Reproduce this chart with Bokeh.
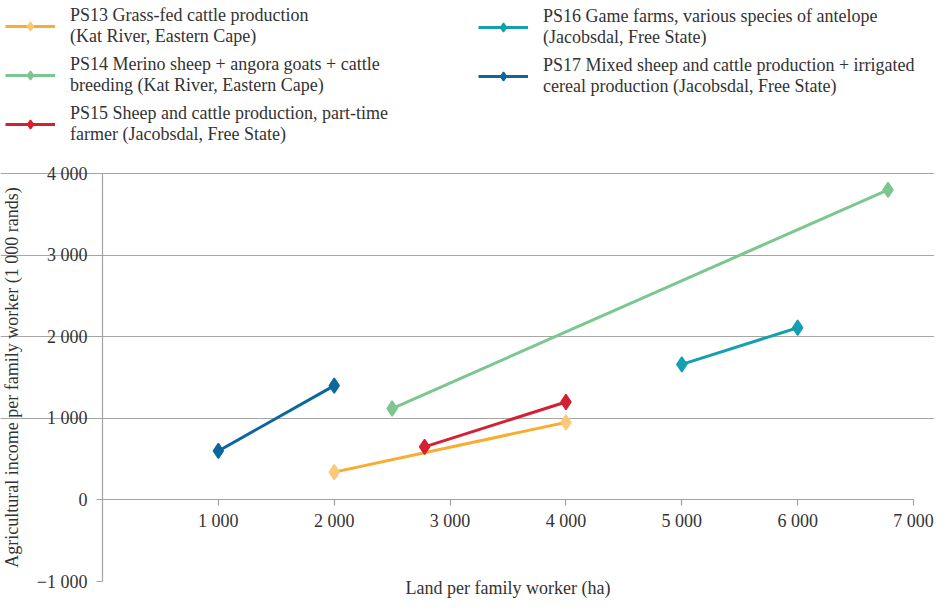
from bokeh.plotting import figure
from bokeh.models import (Range1d, FixedTicker, Legend, LegendItem, LinearAxis,
                          Grid, Label)
from bokeh.embed import file_html
from bokeh.resources import INLINE

# ---- data ----
series_names = [
    "PS13 Grass-fed cattle production\n(Kat River, Eastern Cape)",
    "PS14 Merino sheep + angora goats + cattle\nbreeding (Kat River, Eastern Cape)",
    "PS15 Sheep and cattle production, part-time\nfarmer (Jacobsdal, Free State)",
    "PS16 Game farms, various species of antelope\n(Jacobsdal, Free State)",
    "PS17 Mixed sheep and cattle production + irrigated\ncereal production (Jacobsdal, Free State)",
]
ps13_land = [2000, 4000]
ps13_income = [340, 950]
ps14_land = [2500, 6780]
ps14_income = [1120, 3800]
ps15_land = [2780, 4000]
ps15_income = [650, 1200]
ps16_land = [5000, 6000]
ps16_income = [1660, 2110]
ps17_land = [1000, 2000]
ps17_income = [600, 1400]

x_ticks = [1000, 2000, 3000, 4000, 5000, 6000, 7000]
x_tick_labels = ["1 000", "2 000", "3 000", "4 000", "5 000", "6 000", "7 000"]
y_ticks = [-1000, 0, 1000, 2000, 3000, 4000]
y_tick_labels = ["\u22121 000", "0", "1 000", "2 000", "3 000", "4 000"]
grid_ticks = [1000, 2000, 3000, 4000]
x_min, x_max = 0, 7000
y_min, y_max = -1000, 4000

x_title = "Land per family worker (ha)"
y_title = "Agricultural income per family worker (1 000 rands)"

# ---- layout (pixels on the canvas) ----
W, H = 934, 600
AX_LEFT, AX_RIGHT = 102, 913      # pixel of x_min / x_max
AX_TOP, AX_BOTTOM = 173, 581      # pixel of y_max / y_min
xs = (AX_RIGHT - AX_LEFT) / (x_max - x_min)
ys = (AX_BOTTOM - AX_TOP) / (y_max - y_min)
x_range = Range1d(x_min - AX_LEFT / xs, x_min + (W - AX_LEFT) / xs)
y_range = Range1d(y_min - (H - AX_BOTTOM) / ys, y_max + AX_TOP / ys)

# ---- style ----
FONT = "Liberation Serif"
FS = "18px"
TEXT = "#333333"
AXIS = "#a3a3a3"
line_colors = ["#F8AC30", "#7CC68F", "#D42030", "#13A0B0", "#0C679C"]
marker_colors = ["#FDC878", "#7CC68F", "#D42030", "#13A0B0", "#0C679C"]

p = figure(width=W, height=H, output_backend="svg", toolbar_location=None,
           x_range=x_range, y_range=y_range,
           x_axis_location=None, y_axis_location=None)
p.min_border = 0
p.outline_line_color = None
p.background_fill_color = "white"
p.border_fill_color = "white"
for g in p.grid:
    g.visible = False

p.add_layout(Grid(dimension=1, ticker=FixedTicker(ticks=grid_ticks),
                  bounds=(x_min, x_max), grid_line_color="#a6a6a6",
                  grid_line_width=1.2))

xaxis = LinearAxis(fixed_location=0, bounds=(x_min, x_max),
                   ticker=FixedTicker(ticks=x_ticks),
                   major_label_overrides=dict(zip(x_ticks, x_tick_labels)),
                   major_label_standoff=5)
yaxis = LinearAxis(fixed_location=0, bounds=(y_min, y_max),
                   ticker=FixedTicker(ticks=y_ticks),
                   major_label_overrides=dict(zip(y_ticks, y_tick_labels)),
                   major_label_standoff=9,
                   axis_label=y_title, axis_label_text_font=FONT,
                   axis_label_text_font_size=FS,
                   axis_label_text_font_style="normal",
                   axis_label_text_color=TEXT, axis_label_standoff=12)
for ax in (xaxis, yaxis):
    ax.axis_line_color = AXIS
    ax.axis_line_width = 1.2
    ax.major_tick_line_color = AXIS
    ax.major_tick_line_width = 1.2
    ax.major_tick_in = 0
    ax.major_tick_out = 6
    ax.minor_tick_in = 0
    ax.minor_tick_out = 0
    ax.major_label_text_font = FONT
    ax.major_label_text_font_size = FS
    ax.major_label_text_color = TEXT
p.add_layout(xaxis, "below")
p.add_layout(yaxis, "left")

p.add_layout(Label(x=(x_min + x_max) / 2, y=13, y_units="screen",
                   text=x_title, text_font=FONT, text_font_size=FS,
                   text_color=TEXT, text_align="center",
                   text_baseline="middle"))

lands = [ps13_land, ps14_land, ps15_land, ps16_land, ps17_land]
incomes = [ps13_income, ps14_income, ps15_income, ps16_income, ps17_income]
items = []
for i in range(5):
    lr = p.line(lands[i], incomes[i], line_color=line_colors[i], line_width=3)
    sr = p.scatter(lands[i], incomes[i], marker="diamond", size=15,
                   fill_color=marker_colors[i], line_color=marker_colors[i],
                   line_width=1.5)
    items.append(LegendItem(label=series_names[i], renderers=[lr, sr]))

def make_legend(its, loc):
    return Legend(items=its, location=loc, glyph_width=50, glyph_height=22,
                  label_standoff=15, spacing=7, padding=0, margin=0,
                  border_line_color=None, background_fill_alpha=0,
                  label_text_font=FONT, label_text_font_size=FS,
                  label_text_color=TEXT, label_text_line_height=1.24)

p.add_layout(make_legend(items[:3], (5, H - 138 - 7)))
p.add_layout(make_legend(items[3:], (478, H - 90 - 7)))

open("out.html", "w").write(file_html(p, INLINE))
